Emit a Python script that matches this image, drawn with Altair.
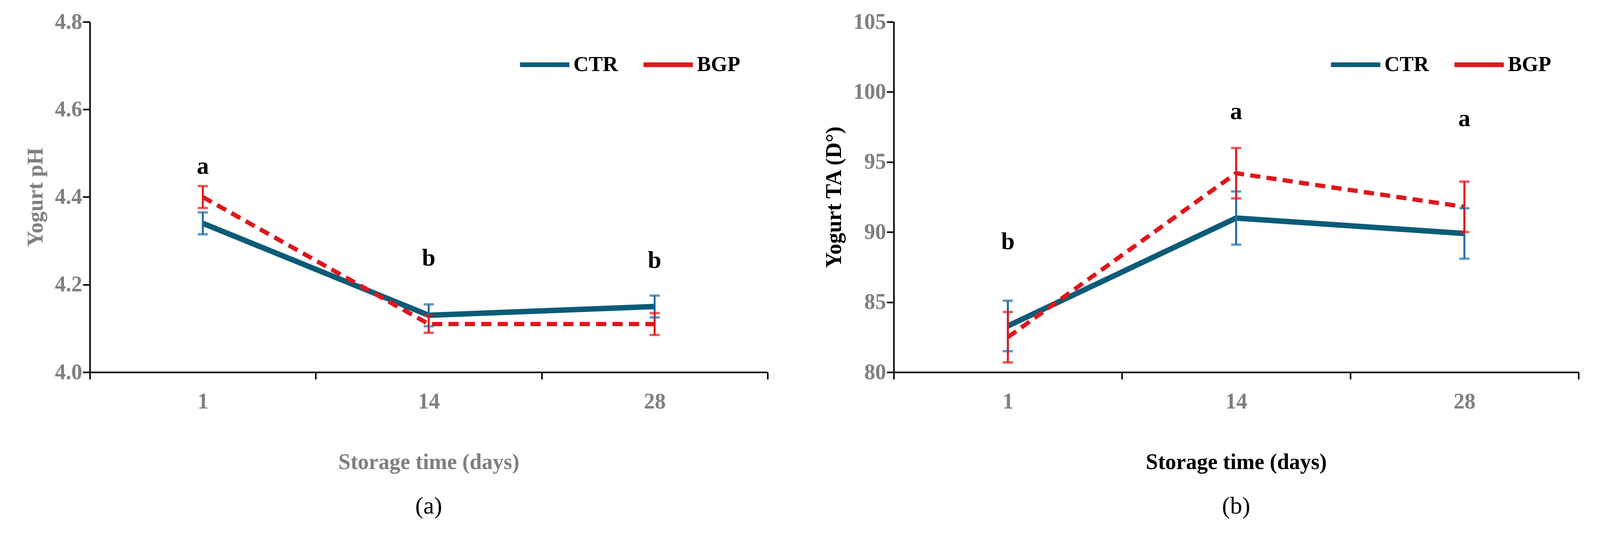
# Yogurt pH and titratable acidity during storage (CTR vs BGP)

import altair as alt
import pandas as pd

days = ['1', '14', '28']
groups = ['CTR', 'BGP']

ph_ctr = [4.34, 4.13, 4.15]
ph_ctr_sd = [0.025, 0.025, 0.025]
ph_bgp = [4.40, 4.11, 4.11]
ph_bgp_sd = [0.025, 0.02, 0.025]
ph_letters = ['a', 'b', 'b']
ph_letter_y = [4.47, 4.26, 4.255]

ta_ctr = [83.3, 91.0, 89.9]
ta_ctr_sd = [1.8, 1.9, 1.8]
ta_bgp = [82.5, 94.2, 91.8]
ta_bgp_sd = [1.8, 1.8, 1.8]
ta_letters = ['b', 'a', 'a']
ta_letter_y = [89.3, 98.6, 98.1]

FONT = 'Liberation Serif'
GREY = '#7f7f7f'
LINE_COLORS = ['#0b5b78', '#e0161b']
BAR_COLORS = ['#1f6aa6', '#e0161b']


def build_df(ctr, ctr_sd, bgp, bgp_sd):
    rows = []
    for g, vals, sds in [('CTR', ctr, ctr_sd), ('BGP', bgp, bgp_sd)]:
        for d, v, s in zip(days, vals, sds):
            rows.append({'day': d, 'group': g, 'value': v, 'lo': v - s, 'hi': v + s})
    return pd.DataFrame(rows)


def panel(df, letters, letter_y, domain, ticks, ytitle, ytitle_color, xtitle_color, caption, width):
    x = alt.X('day:N', sort=days, scale=alt.Scale(paddingInner=0, paddingOuter=0),
              axis=alt.Axis(title='Storage time (days)', labelAngle=0, tickBand='extent',
                            titleColor=xtitle_color, titlePadding=100, labelPadding=30))
    y = alt.Y('value:Q', scale=alt.Scale(domain=domain, nice=False, zero=False),
              axis=alt.Axis(title=ytitle, values=ticks, titleColor=ytitle_color,
                            format='.1f' if domain[1] < 10 else 'd', titlePadding=20))
    color = alt.Color('group:N', sort=groups,
                      scale=alt.Scale(domain=groups, range=LINE_COLORS),
                      legend=alt.Legend(title=None, orient='none', direction='horizontal',
                                        legendX=width - 640, legendY=40,
                                        symbolType='stroke', symbolSize=16000, symbolStrokeWidth=12,
                                        labelFontSize=54, labelFont=FONT, labelFontWeight='bold',
                                        labelColor='black', columnPadding=40, labelLimit=300))
    dash = alt.StrokeDash('group:N', sort=groups,
                          scale=alt.Scale(domain=groups, range=[[1, 0], [26, 16]]), legend=None)
    base = alt.Chart(df)
    lines = base.mark_line(strokeCap='butt').encode(
        x=x, y=y, color=color, strokeDash=dash,
        strokeWidth=alt.StrokeWidth('group:N', sort=groups,
                                    scale=alt.Scale(domain=groups, range=[14, 11]), legend=None))
    bar_color = alt.Color('group:N', scale=alt.Scale(domain=groups, range=BAR_COLORS), legend=None)
    rules = base.mark_rule(strokeWidth=5).encode(x=alt.X('day:N', sort=days), y='lo:Q', y2='hi:Q', color=bar_color)
    caps_lo = base.mark_tick(thickness=6, size=26).encode(x=alt.X('day:N', sort=days), y='lo:Q', color=bar_color)
    caps_hi = base.mark_tick(thickness=6, size=26).encode(x=alt.X('day:N', sort=days), y='hi:Q', color=bar_color)
    ldf = pd.DataFrame({'day': days, 'letter': letters, 'y': letter_y})
    text = alt.Chart(ldf).mark_text(font=FONT, fontWeight='bold', fontSize=62, color='black').encode(
        x=alt.X('day:N', sort=days), y='y:Q', text='letter:N')
    return alt.layer(lines, rules, caps_lo, caps_hi, text).resolve_scale(color='independent').properties(
        width=width, height=897,
        title=alt.TitleParams(caption, orient='bottom', offset=55, fontSize=62,
                              font=FONT, fontWeight='normal', color='black'))


ph_df = build_df(ph_ctr, ph_ctr_sd, ph_bgp, ph_bgp_sd)
ta_df = build_df(ta_ctr, ta_ctr_sd, ta_bgp, ta_bgp_sd)

left = panel(ph_df, ph_letters, ph_letter_y, [4.0, 4.8], [4.0, 4.2, 4.4, 4.6, 4.8],
             'Yogurt pH', GREY, GREY, '(a)', 1735)
right = panel(ta_df, ta_letters, ta_letter_y, [80, 105], [80, 85, 90, 95, 100, 105],
              'Yogurt TA (D°)', 'black', 'black', '(b)', 1753)

chart = alt.hconcat(left, right, spacing=140).configure_view(stroke=None).configure_axis(
    grid=False, domainColor='black', domainWidth=4, tickColor='black', tickWidth=4, tickSize=18,
    labelFont=FONT, labelFontSize=56, labelFontWeight='bold', labelColor=GREY,
    titleFont=FONT, titleFontSize=56, titleFontWeight='bold'
).properties(padding={'left': 55, 'top': 20, 'right': 20, 'bottom': 10})

chart.save('out.html', embed_options={'renderer': 'svg', 'actions': False})
